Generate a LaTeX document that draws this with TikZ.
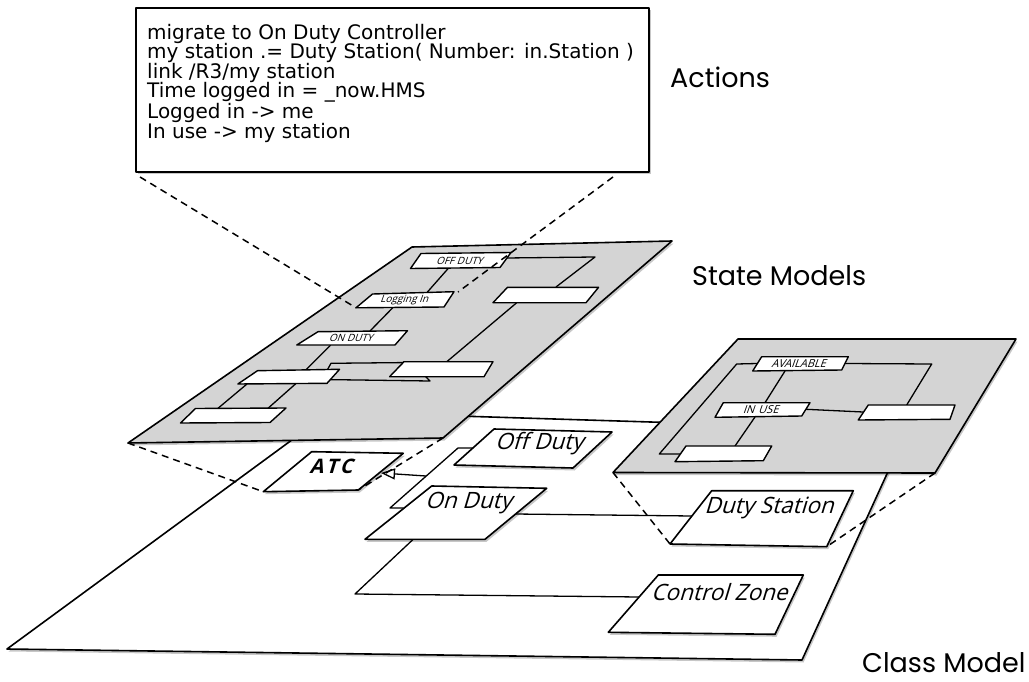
\documentclass[tikz,border=0pt]{standalone}
\usepackage{fontspec}
\setmainfont{DejaVu Sans}
\newfontfamily\headfont{Poppins}
\newfontfamily\labelfont{Open Sans}
\usetikzlibrary{shadows,arrows.meta}
\definecolor{planegray}{RGB}{212,212,212}
\tikzset{
  inkline/.style={draw=black, line width=1.6pt, line join=round},
  soft shadow/.style={drop shadow={shadow xshift=1.5pt, shadow yshift=-2.5pt, opacity=0.22, fill=black}},
  whiteplane/.style={inkline, fill=white, soft shadow},
  grayplane/.style={inkline, fill=planegray, soft shadow},
  statebox/.style={inkline, line width=1.4pt, fill=white},
  classbox/.style={inkline, fill=white, soft shadow},
  wire/.style={draw=black, line width=1.3pt, line join=round},
  zoomline/.style={draw=black, line width=1.5pt, dash pattern=on 7pt off 5pt},
  heading/.style={font=\headfont\fontsize{27}{30}\selectfont, anchor=base west, inner sep=0pt},
  classname/.style={font=\labelfont\fontsize{22.5}{26}\selectfont, xslant=0.3, inner sep=0pt},
  statename/.style={font=\labelfont\fontsize{10}{12}\selectfont, xslant=0.35, inner sep=0pt},
}
% a four-cornered outline (boxes and planes seen in perspective)
\newcommand\quadbox[5][]{\path[#1] #2 -- #3 -- #4 -- #5 -- cycle;}
\begin{document}
\begin{tikzpicture}[x=1pt,y=-1pt]
\useasboundingbox (0,0) rectangle (1029,682);

% ---------------- class model layer ----------------
\quadbox[whiteplane]{(7,649)}{(330,412)}{(907,430)}{(802,660)}
\draw[wire] (473,448) -- (458,448) -- (390,508) -- (403.5,508);
\draw[wire] (515,514) -- (692,516);
\draw[wire] (413,539.5) -- (355,594) -- (639,597);
\quadbox[classbox]{(494,429)}{(612,432)}{(573,468)}{(454,465)}
\quadbox[classbox]{(431.7,486)}{(546.7,488.3)}{(485,539.3)}{(365,539.3)}
\quadbox[classbox]{(311.7,451.7)}{(403.3,453.3)}{(358.3,490)}{(263.3,491.7)}
\quadbox[classbox]{(711.7,490.7)}{(853.3,490.7)}{(826.7,546.7)}{(670,544)}
\quadbox[classbox]{(658.3,575)}{(803.3,575)}{(775,634.3)}{(608.3,632.3)}
\draw[wire, -{Triangle[open, length=14pt, width=11pt]}] (426,476) -- (381,473);
\node[classname] (offduty) at (541,444) {Off Duty};
\node[classname] (onduty) at (470,503.5) {On Duty};
\node[classname, font=\labelfont\bfseries\fontsize{20}{24}\selectfont] (atc) at (333,466) {A\hspace{2.5pt}T\hspace{2.5pt}C};
\node[classname] (dutystation) at (770.5,507.5) {Duty Station};
\node[classname] (controlzone) at (721.7,592.5) {Control Zone};

% ---------------- controller state model ----------------
\quadbox[grayplane]{(412,247)}{(672,241)}{(443,438)}{(128,443)}
\draw[wire] (506,258) -- (595,257) -- (556,287);
\draw[wire] (448.6,268) -- (427,292.5);
\draw[wire] (393,307.5) -- (370,331);
\draw[wire] (330.7,345) -- (305.7,370);
\draw[wire] (516.4,303) -- (446.8,361.7);
\path[wire] (331,363.3) -- (412,362.5) -- (430,381) -- (322,379.5) -- cycle;
\draw[wire] (247,384) -- (218,408.3);
\draw[wire] (296,383.5) -- (268,408.3);
\quadbox[statebox]{(421,253.5)}{(511,252.5)}{(500,267.5)}{(410.5,268.5)}
\quadbox[statebox]{(507.5,287.3)}{(598.6,287.3)}{(586,302.7)}{(493,302.7)}
\quadbox[statebox]{(372.5,294)}{(454,291.7)}{(444,307)}{(356,307.8)}
\quadbox[statebox]{(318,331.7)}{(407.5,330.7)}{(395,345)}{(296.8,345)}
\quadbox[statebox]{(257.5,370.7)}{(339.6,369.3)}{(327,383.3)}{(237.9,384)}
\quadbox[statebox]{(404,361.7)}{(493,361.7)}{(484,376.7)}{(389.6,376.7)}
\quadbox[statebox]{(195.5,408.5)}{(286,408)}{(270,422.5)}{(180.5,423)}
\node[statename] (s-off) at (460.5,260.5) {OFF DUTY};
\node[statename] (s-log) at (405,300) {Logging In};
\node[statename] (s-on) at (352,338) {ON DUTY};
\draw[zoomline] (128,443) -- (263.3,491.7);
\draw[zoomline] (443,438) -- (358.3,490);

% ---------------- duty station state model ----------------
\quadbox[grayplane]{(738,339)}{(1016,339)}{(935,473)}{(613,472.5)}
\draw[wire] (757,363.5) -- (736.7,364) -- (659.3,454) -- (681,454);
\draw[wire] (845,363.5) -- (931.7,364) -- (906.7,405);
\draw[wire] (785,371) -- (765,402.7);
\draw[wire] (806,409.3) -- (863,412);
\draw[wire] (755,417) -- (735,446);
\quadbox[statebox]{(761.7,356.7)}{(848.3,356.7)}{(841.7,370)}{(752.7,371)}
\quadbox[statebox]{(723.3,402.7)}{(810,402.7)}{(801.7,416)}{(715,417.3)}
\quadbox[statebox]{(868.3,405)}{(955,405)}{(950,419.3)}{(858.3,420)}
\quadbox[statebox]{(686,446)}{(771.7,446)}{(763.3,460.7)}{(675,461.7)}
\node[statename, font=\labelfont\fontsize{11}{12}\selectfont] (s-avail) at (800,363.7) {AVAILABLE};
\node[statename, font=\labelfont\fontsize{11}{12}\selectfont] (s-inuse) at (762,410) {IN\hspace{4pt}USE};
\draw[zoomline] (613,472.5) -- (670,544);
\draw[zoomline] (935,473) -- (826.7,546.7);

% ---------------- action language ----------------
\draw[inkline, fill=white, soft shadow] (136,8) rectangle (649,172);
\node[anchor=north west, align=left, inner sep=0pt, font=\fontsize{20}{19.5}\selectfont] (acttext) at (147,24)
  {migrate to On Duty Controller\\
   my station .= Duty Station( Number: in.Station )\\
   link /R3/my station\\
   Time logged in = \_now.HMS\\
   Logged in -> me\\
   In use -> my station};
\draw[zoomline] (140,177) -- (356,307.8);
\draw[zoomline] (613,177) -- (458,292);

% ---------------- layer titles ----------------
\node[heading] (t-actions) at (670,88) {Actions};
\node[heading] (t-states) at (692,285) {State Models};
\node[heading, text depth=0pt] (t-classes) at (862,672) {Class Model};
\end{tikzpicture}
\end{document}
